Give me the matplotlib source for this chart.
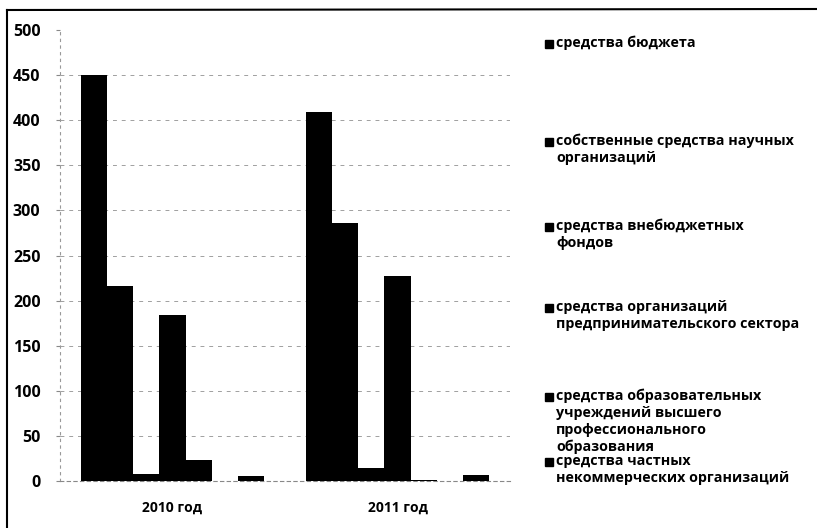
import matplotlib
matplotlib.use('Agg')
import matplotlib.pyplot as plt
import numpy as np
from matplotlib.patches import Rectangle
from matplotlib.lines import Line2D

plt.rcParams['font.family'] = ['Open Sans', 'DejaVu Sans']

# данные (млрд руб.)
years = ['2010 год', '2011 год']
budget = [450, 409]
own_funds = [216, 286]
extra_budget = [8, 14]
business = [184, 227]
higher_edu = [23, 1]
private_nonprofit = [0.5, 0.5]
foreign = [5, 7]  # седьмой ряд, в легенде обрезан

series = [budget, own_funds, extra_budget, business, higher_edu, private_nonprofit, foreign]

legend_labels = [
    'средства бюджета',
    'собственные средства научных\nорганизаций',
    'средства внебюджетных\nфондов',
    'средства организаций\nпредпринимательского сектора',
    'средства образовательных\nучреждений высшего\nпрофессионального\nобразования',
    'средства частных\nнекоммерческих организаций',
]
yticks = [0, 50, 100, 150, 200, 250, 300, 350, 400, 450, 500]

W, H = 817, 528
fig = plt.figure(figsize=(W / 100, H / 100), dpi=100)
ax = fig.add_axes([60 / W, (H - 481) / H, 450 / W, 451 / H])

x = np.arange(len(years))
w = 0.1156
for i, vals in enumerate(series):
    ax.bar(x + (i - 3) * w, vals, width=w, color='black', zorder=3)

ax.set_xlim(-0.5, 1.5)
ax.set_ylim(0, 500)
ax.set_yticks(yticks)
ax.set_yticklabels([str(t) for t in yticks], fontsize=11.5, fontweight='bold')
ax.set_xticks(x)
ax.set_xticklabels(years, fontsize=10, fontweight='bold')
ax.tick_params(axis='y', length=3, width=0.8, color='#888888', pad=11)
ax.tick_params(axis='x', length=0, pad=14)

# пунктирная сетка как на скане
for t in yticks[1:-1]:
    ax.axhline(t, color='#a0a0a0', lw=0.7, ls=(0, (4, 5)), zorder=1)

for s in ['top', 'right']:
    ax.spines[s].set_visible(False)
ax.spines['left'].set_linestyle((0, (2, 4)))
ax.spines['left'].set_color('#999999')
ax.spines['bottom'].set_linestyle((0, (3, 3)))
ax.spines['bottom'].set_color('#888888')

# рамка диаграммы
fig.add_artist(Line2D([7 / W, 7 / W], [0, 1 - 10 / H], color='black', lw=1.5))
fig.add_artist(Line2D([7 / W, 1], [1 - 10 / H, 1 - 9 / H], color='black', lw=1.5))

# легенда вручную
leg_y = [44, 142, 227, 308, 397, 462]
for lab, yy in zip(legend_labels, leg_y):
    fig.add_artist(Rectangle((545 / W, 1 - (yy + 4) / H), 8 / W, 8 / H,
                             transform=fig.transFigure, color='black'))
    fig.text(556 / W, 1 - (yy - 8) / H, lab, fontsize=10.3, fontweight='bold',
             va='top', ha='left', linespacing=1.24)

fig.savefig('out.png', dpi=100)
